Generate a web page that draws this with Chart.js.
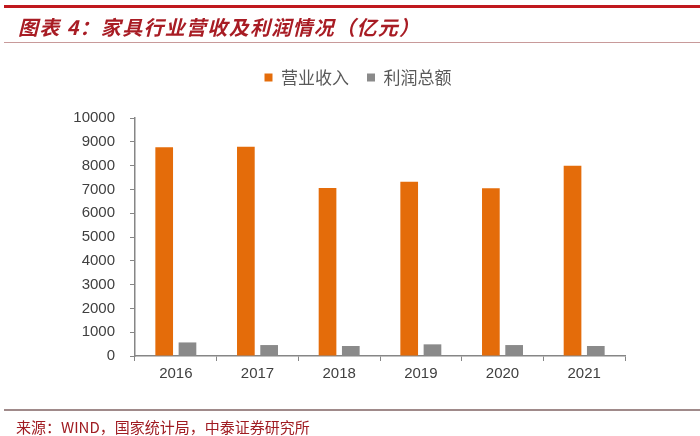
<!DOCTYPE html>
<html>
<head>
<meta charset="utf-8">
<script src="https://cdn.jsdelivr.net/npm/chart.js@4"></script>
<style>
  body { margin: 0; background: #fff; }
  #wrap { position: relative; width: 700px; height: 436px; overflow: hidden; }
  #topLine { position: absolute; left: 4px; right: 0; top: 5px; height: 3px; background: #c0181e; }
  #title { position: absolute; left: 18px; top: 13px; font-family: "Noto Sans CJK SC"; font-size: 20px; line-height: 28px; font-weight: bold; font-style: italic; color: #a81c24; letter-spacing: 1.3px; }
  #titleLine { position: absolute; left: 4px; right: 0; top: 42px; height: 1px; background: #c89a9a; }
  #footLine { position: absolute; left: 4px; right: 0; top: 409px; height: 2px; background: #a08a8a; }
  #foot { position: absolute; left: 16px; top: 416px; font-family: "Noto Sans CJK SC"; font-size: 15px; line-height: 22px; color: #a01c22; }
  #miChart { position: absolute; left: 0; top: 0; }
</style>
</head>
<body>
<div id="wrap">
  <canvas id="miChart" width="700" height="436"></canvas>
  <div id="topLine"></div>
  <div id="title">图表 4：家具行业营收及利润情况（亿元）</div>
  <div id="titleLine"></div>
  <div id="footLine"></div>
  <div id="foot">来源：WIND，国家统计局，中泰证券研究所</div>
</div>
<script>
// Datos del grafico
const years = ["2016", "2017", "2018", "2019", "2020", "2021"];
const revenue = [8770, 8790, 7060, 7320, 7050, 7990];
const profit = [570, 460, 420, 490, 460, 420];
const yTicks = [0, 1000, 2000, 3000, 4000, 5000, 6000, 7000, 8000, 9000, 10000];

const miChart = document.querySelector("#miChart");

// Ajustar alto de la leyenda para dejar espacio bajo ella
const legendSpace = {
    id: 'legendSpace',
    beforeInit(chart) {
        const fit = chart.legend.fit;
        chart.legend.fit = function () {
            fit.bind(chart.legend)();
            this.height = 67;
        };
    }
};

let furnitureChart = new Chart(miChart, {
    type: 'bar',
    data: {
        labels: years,
        datasets: [
            { label: '营业收入', data: revenue, backgroundColor: '#e46c0a', categoryPercentage: 0.57, barPercentage: 0.76 },
            { label: '利润总额', data: profit, backgroundColor: '#8a8a8a', categoryPercentage: 0.57, barPercentage: 0.76 }
        ]
    },
    options: {
        responsive: false,
        animation: false,
        layout: { padding: { top: 51, left: 16, right: 0, bottom: 0 } },
        plugins: {
            legend: {
                position: 'top',
                labels: {
                    boxWidth: 8, boxHeight: 8, padding: 18,
                    color: '#595959',
                    font: { family: "'Noto Sans CJK SC'", size: 17 }
                }
            },
            tooltip: { enabled: false }
        },
        scales: {
            x: {
                grid: { display: true, drawOnChartArea: false, offset: true, color: '#868686', tickLength: 5 },
                border: { color: '#868686', width: 1.5 },
                ticks: { color: '#404040', font: { family: "'Liberation Sans'", size: 15 }, padding: 4 },
                afterFit: (s) => { s.height = 80; }
            },
            y: {
                min: 0, max: 10000,
                afterBuildTicks: (s) => { s.ticks = yTicks.map(v => ({ value: v })); },
                grid: { display: true, drawOnChartArea: false, color: '#868686', tickLength: 5 },
                border: { color: '#868686', width: 1.5 },
                ticks: { color: '#404040', font: { family: "'Liberation Sans'", size: 15 }, padding: 15, callback: (v) => String(v) },
                afterFit: (s) => { s.width = 119; }
            },
            yRight: {
                position: 'right',
                grid: { display: false },
                border: { display: false },
                ticks: { display: false },
                afterFit: (s) => { s.width = 75; }
            }
        }
    },
    plugins: [legendSpace]
});
</script>
</body>
</html>
